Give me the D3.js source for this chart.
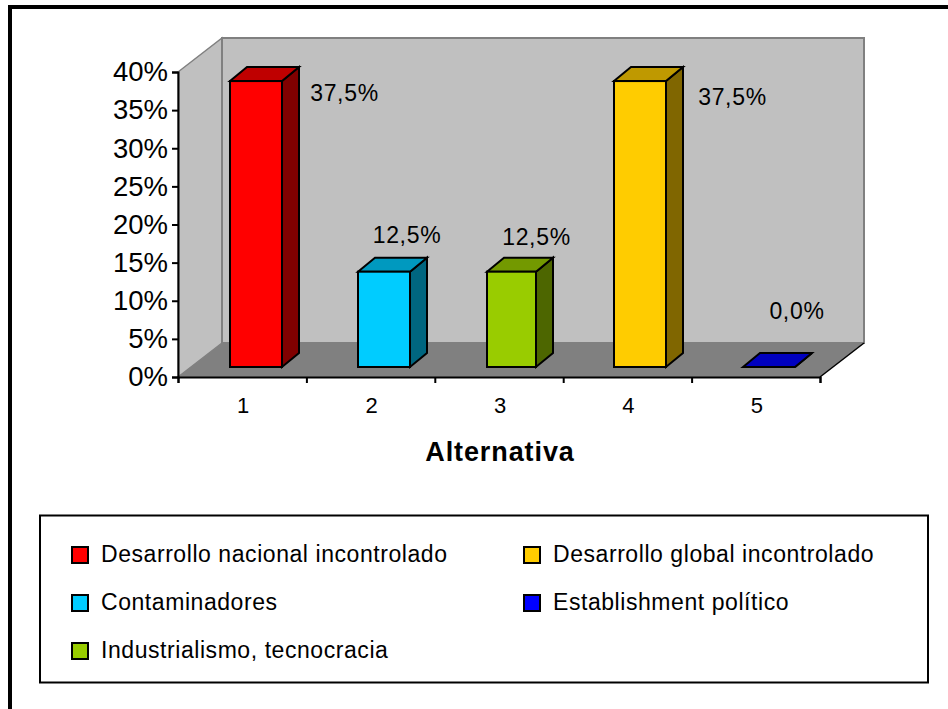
<!DOCTYPE html>
<html>
<head>
<meta charset="utf-8">
<script src="https://cdn.jsdelivr.net/npm/d3@7"></script>
<style>
  html, body { margin: 0; padding: 0; background: #fff; }
  svg { display: block; }
  text { font-family: "Liberation Sans", Arial, sans-serif; fill: #000; }
</style>
</head>
<body>
<svg id="chart" width="948" height="709"></svg>
<script>
const categories = ["1", "2", "3", "4", "5"];
const values = [37.5, 12.5, 12.5, 37.5, 0];
const valueLabels = ["37,5%", "12,5%", "12,5%", "37,5%", "0,0%"];
const seriesNames = ["Desarrollo nacional incontrolado", "Contaminadores", "Industrialismo, tecnocracia", "Desarrollo global incontrolado", "Establishment político"];
const frontColors = ["#ff0000", "#00ccff", "#99cc00", "#ffcc00", "#0000ff"];
const topColors = ["#bf0000", "#0099bf", "#739900", "#bf9900", "#0000bf"];
const sideColors = ["#800000", "#006680", "#4d6600", "#806600", "#000080"];
const yTicks = [0, 5, 10, 15, 20, 25, 30, 35, 40];
const axisTitle = "Alternativa";

const svg = d3.select("#chart");

// Plot box: front plane of the pseudo-3D chart, plus the depth offset of the back wall
const plotLeft = 178, plotRight = 820, plotBottom = 377, plotTop = 72;
const depthX = 44, depthY = -34;
const barDepthX = 17, barDepthY = -14;
const barInsetX = 52, barInsetY = -10;
// Per-bar pixel snapping of the left edge and front width
const barNudge = [0, 0, 1, -1, 0];
const barWidths = [52, 52, 49, 52, 52];

const x = d3.scaleBand().domain(categories).range([plotLeft, plotRight]);
const y = d3.scaleLinear().domain([0, 40]).range([plotBottom, plotTop]);
const line = d3.line();

// Outer frame, open on the right and bottom
svg.append("path")
  .attr("d", "M10,709V7H948")
  .attr("fill", "none").attr("stroke", "#000").attr("stroke-width", 4);

// Walls and floor
svg.append("path")
  .attr("d", line([[plotLeft, plotBottom], [plotLeft, plotTop], [plotLeft + depthX, plotTop + depthY], [plotLeft + depthX, plotBottom + depthY]]) + "Z")
  .attr("fill", "#c0c0c0").attr("stroke", "#808080").attr("stroke-width", 1.5);
svg.append("path")
  .attr("d", line([[plotLeft + depthX, plotTop + depthY], [plotRight + depthX, plotTop + depthY], [plotRight + depthX, plotBottom + depthY], [plotLeft + depthX, plotBottom + depthY]]) + "Z")
  .attr("fill", "#c0c0c0").attr("stroke", "#808080").attr("stroke-width", 2);
svg.append("path")
  .attr("d", line([[plotLeft, plotBottom], [plotLeft + depthX, plotBottom + depthY], [plotRight + depthX, plotBottom + depthY], [plotRight, plotBottom]]) + "Z")
  .attr("fill", "#808080");
svg.append("path")
  .attr("d", line([[plotRight, plotBottom], [plotRight + depthX, plotBottom + depthY]]))
  .attr("stroke", "#000").attr("stroke-width", 1.5).attr("fill", "none");

// Bars: side face, top face, then front face
const bars = svg.append("g").selectAll("g").data(values).join("g")
  .attr("stroke", "#000").attr("stroke-width", 2).attr("stroke-linejoin", "miter");
const bx = (i) => Math.floor(x(categories[i]) + barInsetX) + barNudge[i];
const by = (v) => y(v) + barInsetY;
bars.append("path")
  .attr("fill", (d, i) => sideColors[i])
  .attr("d", (d, i) => line([[bx(i) + barWidths[i], by(d)], [bx(i) + barWidths[i] + barDepthX, by(d) + barDepthY], [bx(i) + barWidths[i] + barDepthX, by(0) + barDepthY], [bx(i) + barWidths[i], by(0)]]) + "Z");
bars.append("path")
  .attr("fill", (d, i) => topColors[i])
  .attr("d", (d, i) => line([[bx(i), by(d)], [bx(i) + barDepthX, by(d) + barDepthY], [bx(i) + barWidths[i] + barDepthX, by(d) + barDepthY], [bx(i) + barWidths[i], by(d)]]) + "Z");
bars.append("rect")
  .attr("fill", (d, i) => frontColors[i])
  .attr("x", (d, i) => bx(i)).attr("y", (d) => by(d))
  .attr("width", (d, i) => barWidths[i]).attr("height", (d) => by(0) - by(d));

// Value axis
const yAxis = svg.append("g").attr("transform", `translate(${plotLeft},0)`)
  .call(d3.axisLeft(y).tickValues(yTicks).tickFormat((d) => d + "%").tickSize(6).tickPadding(4));
yAxis.selectAll("path, line").attr("stroke", "#000").attr("stroke-width", 2);
yAxis.selectAll("text").attr("font-size", 27.5).style("font-family", '"Liberation Sans", Arial, sans-serif');

// Category axis: ticks fall on the band edges, labels in the band centres
const xEdges = d3.scaleLinear().domain([0, categories.length]).range([plotLeft, plotRight]);
const xAxis = svg.append("g").attr("transform", `translate(0,${plotBottom})`)
  .call(d3.axisBottom(xEdges).tickValues(d3.range(categories.length + 1)).tickFormat("").tickSize(6));
xAxis.selectAll("path, line").attr("stroke", "#000").attr("stroke-width", 2);

svg.append("g").selectAll("text").data(categories).join("text")
  .attr("x", (d) => x(d) + x.bandwidth() / 2 + 1)
  .attr("y", 413).attr("text-anchor", "middle").attr("font-size", 22)
  .text((d) => d);

svg.append("text").attr("x", 500).attr("y", 461).attr("text-anchor", "middle")
  .attr("font-size", 27).attr("font-weight", "bold").attr("letter-spacing", 0.9).text(axisTitle);

// Value labels sit above and to the right of each bar
const labelPos = [[344.5, 101], [407, 243], [536.5, 245], [732.5, 105], [797, 319]];
svg.append("g").selectAll("text").data(valueLabels).join("text")
  .attr("x", (d, i) => labelPos[i][0]).attr("y", (d, i) => labelPos[i][1])
  .attr("text-anchor", "middle").attr("font-size", 23).attr("letter-spacing", 0.7).text((d) => d);

// Legend
svg.append("rect").attr("x", 40).attr("y", 515.5).attr("width", 888).attr("height", 167)
  .attr("fill", "#fff").attr("stroke", "#000").attr("stroke-width", 2);
const legendPos = [[72, 555], [72, 603], [72, 651], [524, 555], [524, 603]];
const legend = svg.append("g").selectAll("g").data(seriesNames).join("g")
  .attr("transform", (d, i) => `translate(${legendPos[i][0]},${legendPos[i][1]})`);
legend.append("rect").attr("x", 0).attr("y", -8).attr("width", 16).attr("height", 16)
  .attr("fill", (d, i) => frontColors[i]).attr("stroke", "#000").attr("stroke-width", 2);
legend.append("text").attr("x", 29).attr("y", 7).attr("font-size", 23).attr("letter-spacing", 0.56).text((d) => d);
</script>
</body>
</html>
